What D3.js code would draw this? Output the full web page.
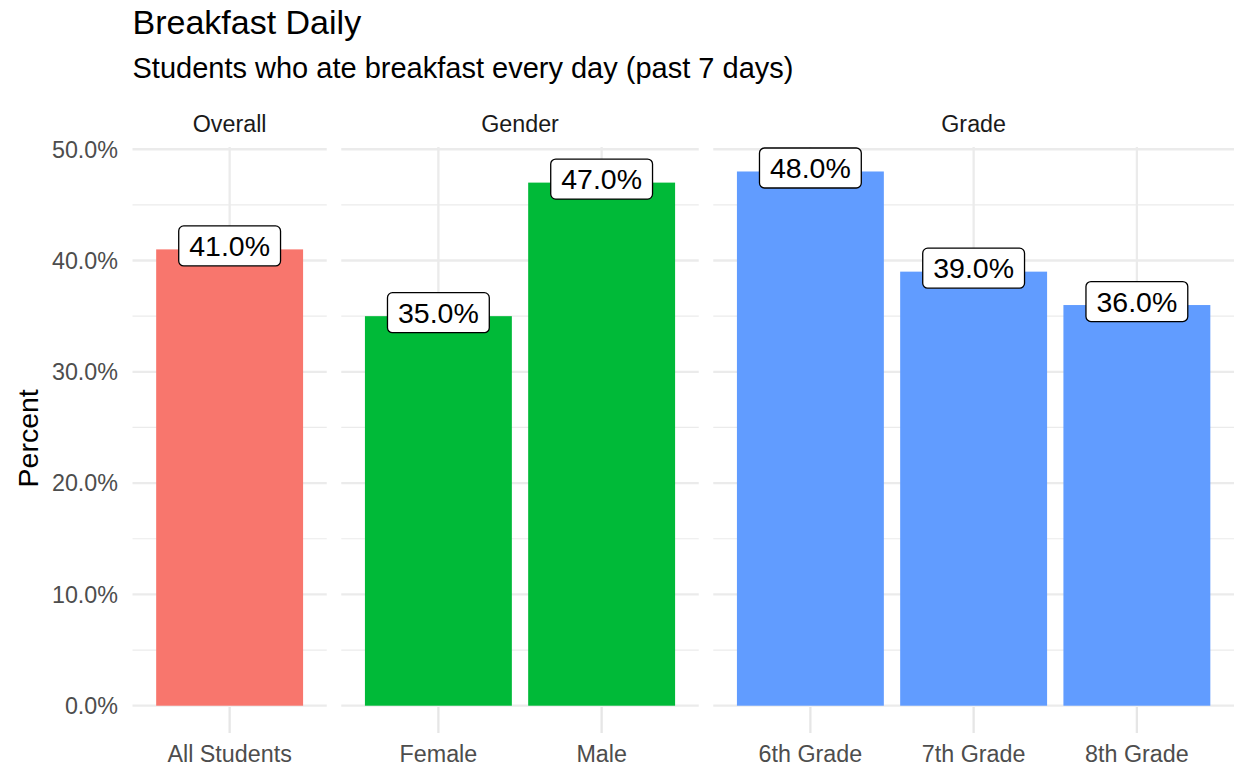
<!DOCTYPE html>
<html>
<head>
<meta charset="utf-8">
<script src="https://cdn.jsdelivr.net/npm/d3@7"></script>
<style>
  html, body { margin: 0; padding: 0; background: #fff; }
  svg { display: block; font-family: "Liberation Sans", Arial, Helvetica, sans-serif; }
</style>
</head>
<body>
<svg id="chart" width="1238" height="767"></svg>
<script>
// Facets, their categories and the share of students (percent)
const facets = ["Overall", "Gender", "Grade"];
const categories = [
  ["All Students"],
  ["Female", "Male"],
  ["6th Grade", "7th Grade", "8th Grade"]
];
const values = [
  [41.0],
  [35.0, 47.0],
  [48.0, 39.0, 36.0]
];
const facetColors = ["#F8766D", "#00BA38", "#619CFF"];
const yTicks = [0, 10, 20, 30, 40, 50];
const yMinor = [5, 15, 25, 35, 45];

const title = "Breakfast Daily";
const subtitle = "Students who ate breakfast every day (past 7 days)";
const yTitle = "Percent";

(function draw() {
  const svg = d3.select("#chart");

  // Plot region
  const plotLeft = 132.5, plotRight = 1234, plotTop = 147, plotBottom = 705.7;
  const panelGap = 14.5;
  const padUnits = 0.095;          // extra space at each side of a panel, in category units
  const gridColor = "#EBEBEB";

  const y = d3.scaleLinear().domain([0, 50.2]).range([plotBottom, plotTop]);
  const fmt = d => d.toFixed(1) + "%";

  // Panel widths proportional to number of categories
  const units = categories.map(c => c.length + 2 * padUnits);
  const totalUnits = d3.sum(units);
  const unitPx = (plotRight - plotLeft - panelGap * (facets.length - 1)) / totalUnits;

  let cursor = plotLeft;
  const panels = facets.map((f, i) => {
    const w = units[i] * unitPx;
    const p = { name: f, x0: cursor, x1: cursor + w, cats: categories[i], vals: values[i], color: facetColors[i] };
    cursor += w + panelGap;
    p.x = d3.scaleBand().domain(p.cats).range([p.x0, p.x1])
            .paddingInner(0.1).paddingOuter(0.05 + padUnits);
    return p;
  });

  // Title and subtitle
  svg.append("text").attr("x", plotLeft).attr("y", 34)
    .attr("font-size", 34).attr("fill", "#000").text(title);
  svg.append("text").attr("x", plotLeft).attr("y", 78)
    .attr("font-size", 29).attr("fill", "#000").text(subtitle);

  // Y axis title
  svg.append("text")
    .attr("transform", `translate(38,${(plotTop + plotBottom) / 2 + 12}) rotate(-90)`)
    .attr("text-anchor", "middle").attr("font-size", 28.5).attr("fill", "#000")
    .text(yTitle);

  // Y tick labels
  svg.append("g").selectAll("text").data(yTicks).join("text")
    .attr("x", 118).attr("y", d => y(d) + 8.3)
    .attr("text-anchor", "end").attr("font-size", 23.3).attr("fill", "#4D4D4D")
    .text(d => fmt(d));

  panels.forEach(p => {
    const g = svg.append("g");

    // minor horizontal grid
    g.selectAll("line.minor").data(yMinor).join("line").attr("class", "minor")
      .attr("x1", p.x0).attr("x2", p.x1)
      .attr("y1", d => y(d)).attr("y2", d => y(d))
      .attr("stroke", gridColor).attr("stroke-width", 1.2);

    // major horizontal grid
    g.selectAll("line.major").data(yTicks).join("line").attr("class", "major")
      .attr("x1", p.x0).attr("x2", p.x1)
      .attr("y1", d => y(d)).attr("y2", d => y(d))
      .attr("stroke", gridColor).attr("stroke-width", 2.3);

    // vertical grid at category centres
    g.selectAll("line.vgrid").data(p.cats).join("line").attr("class", "vgrid")
      .attr("x1", d => p.x(d) + p.x.bandwidth() / 2)
      .attr("x2", d => p.x(d) + p.x.bandwidth() / 2)
      .attr("y1", plotTop).attr("y2", plotBottom)
      .attr("stroke", gridColor).attr("stroke-width", 2.3);

    // x ticks
    g.selectAll("line.tick").data(p.cats).join("line").attr("class", "tick")
      .attr("x1", d => p.x(d) + p.x.bandwidth() / 2)
      .attr("x2", d => p.x(d) + p.x.bandwidth() / 2)
      .attr("y1", 707).attr("y2", 733)
      .attr("stroke", "#E6E6E6").attr("stroke-width", 2.3);

    // strip label
    g.append("text")
      .attr("x", (p.x0 + p.x1) / 2).attr("y", 131.5)
      .attr("text-anchor", "middle").attr("font-size", 23.3).attr("fill", "#1A1A1A")
      .text(p.name);

    // x tick labels
    g.selectAll("text.xlab").data(p.cats).join("text").attr("class", "xlab")
      .attr("x", d => p.x(d) + p.x.bandwidth() / 2).attr("y", 762.3)
      .attr("text-anchor", "middle").attr("font-size", 23.3).attr("fill", "#4D4D4D")
      .text(d => d);

    const rows = p.cats.map((c, i) => ({ cat: c, val: p.vals[i] }));

    // bars
    g.selectAll("rect.bar").data(rows).join("rect").attr("class", "bar")
      .attr("x", d => p.x(d.cat)).attr("width", p.x.bandwidth())
      .attr("y", d => y(d.val)).attr("height", d => y(0) - y(d.val))
      .attr("fill", p.color);

    // value labels in rounded boxes
    rows.forEach(d => {
      const cx = p.x(d.cat) + p.x.bandwidth() / 2;
      const cy = y(d.val) - 3.5;
      const lg = g.append("g");
      const rect = lg.append("rect");
      const t = lg.append("text")
        .attr("x", cx).attr("y", cy + 10)
        .attr("text-anchor", "middle").attr("font-size", 28.5).attr("fill", "#000")
        .text(fmt(d.val));
      const tw = t.node().getComputedTextLength();
      const bw = tw + 21, bh = 40;
      rect.attr("x", cx - bw / 2).attr("y", cy - bh / 2)
        .attr("width", bw).attr("height", bh)
        .attr("rx", 5).attr("ry", 5)
        .attr("fill", "#fff").attr("stroke", "#000").attr("stroke-width", 1.3);
    });
  });
})();
</script>
</body>
</html>
